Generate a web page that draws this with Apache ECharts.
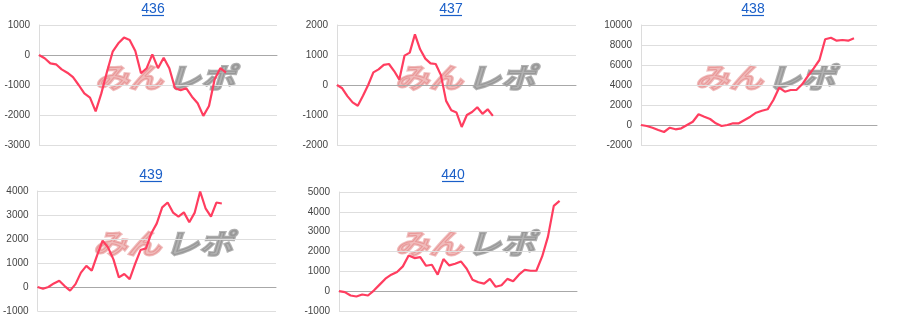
<!DOCTYPE html>
<html>
<head>
<meta charset="utf-8">
<script src="https://cdn.jsdelivr.net/npm/echarts@6/dist/echarts.min.js"></script>
<style>
html,body{margin:0;padding:0;background:#fff;}
#chart{width:900px;height:332px;}
</style>
</head>
<body>
<div id="chart"></div>
<script>
// ---- data ----
const titles = ['436', '437', '438', '439', '440'];
const s436 = [0,-110,-280,-310,-480,-590,-740,-1000,-1280,-1420,-1880,-1280,-560,110,390,580,500,130,-610,-440,20,-440,-90,-440,-1110,-1170,-1110,-1390,-1610,-2030,-1700,-810,-440,-590];
const s437 = [0,-110,-370,-580,-690,-360,0,420,520,670,700,465,180,980,1080,1690,1190,880,720,700,330,-530,-840,-920,-1400,-1000,-900,-740,-960,-810,-1030];
const s438 = [0,-100,-270,-500,-700,-270,-430,-330,0,330,1070,830,600,170,-100,0,170,170,500,830,1230,1430,1570,2500,3730,3330,3500,3500,4070,4900,5670,6500,8570,8730,8430,8500,8430,8670];
const s439 = [0,-70,0,150,260,40,-150,120,600,880,680,1330,1930,1650,1150,400,540,330,960,1540,1610,2240,2650,3320,3520,3100,2930,3110,2700,3100,3980,3280,2930,3520,3480];
const s440 = [0,-50,-220,-270,-170,-220,30,330,630,830,970,1250,1800,1670,1720,1280,1330,830,1620,1300,1380,1500,1130,580,450,380,620,220,300,620,500,830,1080,1030,1030,1750,2750,4300,4550];
const seriesData = [s436, s437, s438, s439, s440];
const slotCounts = [43, 47, 42, 45, 42];
const yMin = [-3000, -2000, -2000, -1000, -1000];
const yMax = [1000, 2000, 10000, 4000, 5000];
const yStep = [1000, 1000, 2000, 1000, 1000];

// ---- layout ----
const grids = [
  {left: 39, top: 25, width: 238, height: 120},
  {left: 337, top: 25, width: 239, height: 120},
  {left: 641, top: 25, width: 236, height: 120},
  {left: 37, top: 191, width: 239, height: 120},
  {left: 339, top: 192, width: 238, height: 119}
];
const titlePos = [[153, 9], [451, 9], [753, 9], [151, 175], [453, 175]];
const markPos = [[95, 77], [395, 77], [695, 77], [93, 243], [395, 243]];

const chart = echarts.init(document.getElementById('chart'), null, {renderer: 'canvas'});

const graphic = [];
const markFont = {fontFamily: '"Noto Sans CJK JP", sans-serif', fontSize: 34, fontWeight: 'bold', fontStyle: 'italic'};
titles.forEach((t, i) => {
  const [cx, cy] = titlePos[i];
  graphic.push({
    type: 'text', z: 10,
    style: {text: t, x: cx, y: cy, textAlign: 'center', textVerticalAlign: 'middle',
      fontFamily: '"Liberation Sans", Arial, sans-serif', fontSize: 14, fill: '#1a5fc8'}
  });
  graphic.push({
    type: 'line', z: 10,
    shape: {x1: cx - 11, y1: cy + 6.5, x2: cx + 11, y2: cy + 6.5},
    style: {stroke: '#1a5fc8', lineWidth: 1.2}
  });
  const [mx, my] = markPos[i];
  graphic.push({
    type: 'text', z: -1, silent: true, x: mx, y: my, scaleY: 0.82,
    style: Object.assign({text: 'みん', x: 0, y: 0, textAlign: 'left', textVerticalAlign: 'middle',
      fill: 'rgba(225,120,120,0.5)', stroke: 'rgba(225,120,120,0.5)', lineWidth: 2.5}, markFont)
  });
  graphic.push({
    type: 'text', z: -1, silent: true, x: mx + 72, y: my, scaleY: 0.82,
    style: Object.assign({text: 'レポ', x: 0, y: 0, textAlign: 'left', textVerticalAlign: 'middle',
      fill: 'rgba(140,140,140,0.68)', stroke: 'rgba(140,140,140,0.68)', lineWidth: 2.5}, markFont)
  });
});

const option = {
  animation: false,
  backgroundColor: '#ffffff',
  graphic: graphic,
  grid: grids,
  xAxis: seriesData.map((d, i) => ({
    type: 'category', gridIndex: i, boundaryGap: false,
    data: Array.from({length: slotCounts[i]}, (_, k) => String(k + 1)),
    axisLabel: {show: false}, axisTick: {show: false},
    axisLine: {show: true, onZero: true, lineStyle: {color: '#a8a8a8', width: 1}},
    splitLine: {show: false}
  })),
  yAxis: seriesData.map((d, i) => ({
    type: 'value', gridIndex: i, min: yMin[i], max: yMax[i], interval: yStep[i],
    axisLabel: {color: '#444', fontSize: 10, margin: 9, fontFamily: '"Liberation Sans", Arial, sans-serif',
      formatter: v => String(v)},
    axisTick: {show: false},
    axisLine: {show: true, lineStyle: {color: '#dcdcdc'}},
    splitLine: {show: true, lineStyle: {color: '#dedede', width: 1}}
  })),
  series: seriesData.map((d, i) => ({
    type: 'line', xAxisIndex: i, yAxisIndex: i, data: d,
    symbol: 'none', silent: true, z: 5,
    lineStyle: {color: '#ff3d5f', width: 2.2}
  }))
};
chart.setOption(option);
</script>
</body>
</html>
